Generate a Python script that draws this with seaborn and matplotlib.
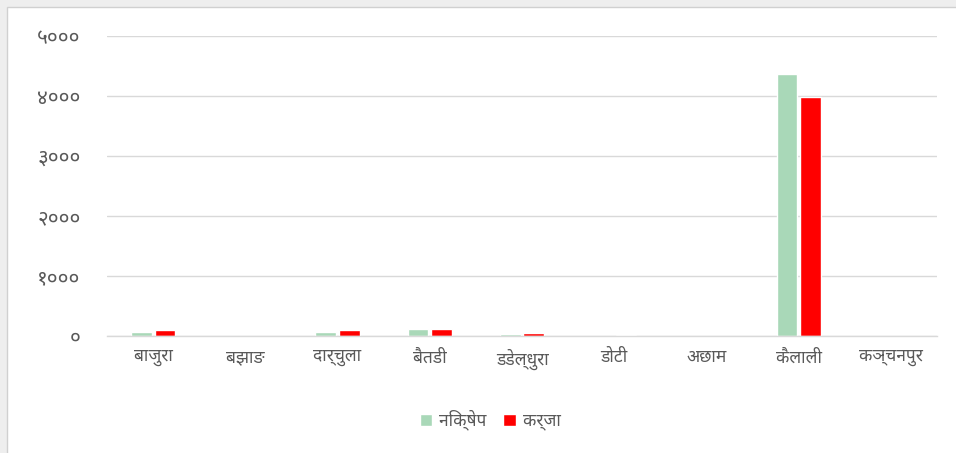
import matplotlib
matplotlib.use("Agg")
import matplotlib.pyplot as plt
from matplotlib import font_manager as fm
from matplotlib.ft2font import FT2Font
from matplotlib.patches import Rectangle
import seaborn as sns
import pandas as pd

districts = ["बाजुरा", "बझाङ", "दार्चुला", "बैतडी", "डडेल्धुरा", "डोटी", "अछाम", "कैलाली", "कञ्चनपुर"]
deposit = [65, 0, 65, 115, 35, 5, 0, 4370, 0]
loan = [105, 0, 95, 125, 45, 20, 0, 3985, 5]
series_names = ["निक्षेप", "कर्जा"]
ytick_values = [0, 1000, 2000, 3000, 4000, 5000]
ytick_labels = ["०", "१०००", "२०००", "३०००", "४०००", "५०००"]

sns.set_theme(style="white")

# find a font with Devanagari glyphs (prefer Noto)
deva_fonts = []
for f in fm.fontManager.ttflist:
    try:
        cm = FT2Font(f.fname).get_charmap()
        if 0x0915 in cm and 0x0966 in cm:
            if f.name not in deva_fonts:
                deva_fonts.append(f.name)
    except Exception:
        pass
deva_fonts.sort(key=lambda n: (0 if "Noto" in n else 1, n))
families = deva_fonts[:1] + ["DejaVu Sans"]
plt.rcParams["font.family"] = families

df = pd.DataFrame({
    "district": districts * 2,
    "value": deposit + loan,
    "series": [series_names[0]] * len(districts) + [series_names[1]] * len(districts),
})

fig = plt.figure(figsize=(9.56, 4.53), dpi=100, facecolor="white")
ax = fig.add_axes([107 / 956, 1 - 336 / 453, (937 - 107) / 956, 300 / 453])

palette = {series_names[0]: "#A9D8B8", series_names[1]: "#FF0000"}
sns.barplot(data=df, x="district", y="value", hue="series", palette=palette,
            order=districts, hue_order=series_names, width=0.51, gap=0.12,
            saturation=1, ax=ax, legend=True)

ax.set_ylim(0, 5000)
ax.set_xlim(-0.5, len(districts) - 0.5)
ax.set_yticks(ytick_values)
ax.set_yticklabels(ytick_labels)
ax.yaxis.grid(True, color="#D9D9D9", linewidth=1)
ax.set_axisbelow(True)
for s in ["top", "right", "left"]:
    ax.spines[s].set_visible(False)
ax.spines["bottom"].set_color("#D9D9D9")
ax.spines["bottom"].set_linewidth(1.0)
ax.tick_params(axis="both", length=0, colors="#595959")
ax.tick_params(axis="y", pad=19, labelsize=15)
ax.tick_params(axis="x", pad=9, labelsize=12.5)
ax.set_xlabel("")
ax.set_ylabel("")

leg = ax.legend(loc="center", bbox_to_anchor=(490 / 956, 1 - 420 / 453),
                bbox_transform=fig.transFigure, ncol=2, frameon=False,
                fontsize=12.5, handlelength=0.7, handleheight=0.7,
                handletextpad=0.4, columnspacing=1.0)
for t in leg.get_texts():
    t.set_color("#595959")

# outer gray strips and border (top/left)
fig.patches.append(Rectangle((0, 0), 7 / 956, 1, transform=fig.transFigure,
                             facecolor="#EEEEEE", edgecolor="none", zorder=-1))
fig.patches.append(Rectangle((0, 1 - 7 / 453), 1, 7 / 453, transform=fig.transFigure,
                             facecolor="#EEEEEE", edgecolor="none", zorder=-1))
fig.patches.append(Rectangle((7 / 956, -0.01), 1, 1 - 7 / 453 + 0.01, transform=fig.transFigure,
                             facecolor="none", edgecolor="#D0D0D0", linewidth=1, zorder=-1))

fig.savefig("out.png", dpi=100, facecolor="white")
